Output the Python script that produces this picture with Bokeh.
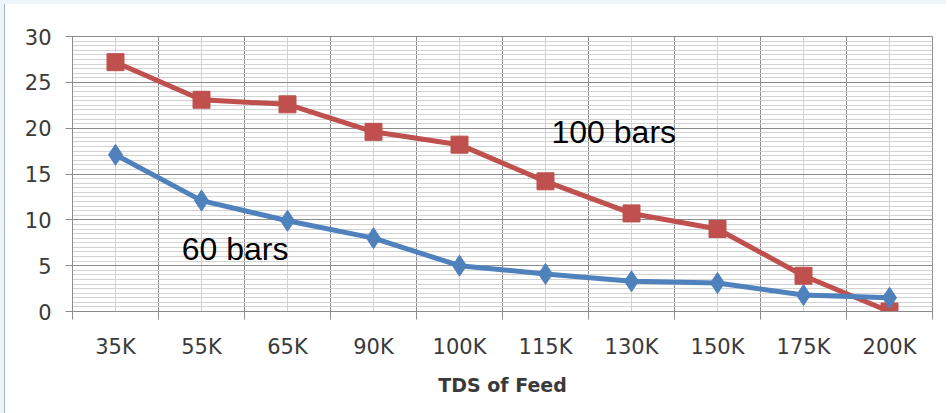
from bokeh.plotting import figure
from bokeh.layouts import column
from bokeh.models import Range1d, FixedTicker, SingleIntervalTicker, Label
from bokeh.embed import file_html
from bokeh.resources import INLINE

# Feed salinity (TDS) categories and the two pressure series
tds_labels = ["35K", "55K", "65K", "90K", "100K", "115K", "130K", "150K", "175K", "200K"]
bars_100 = [27.2, 23.1, 22.6, 19.6, 18.2, 14.2, 10.7, 9.0, 3.9, 0.0]
bars_60 = [17.1, 12.1, 9.9, 8.0, 5.0, 4.1, 3.3, 3.1, 1.8, 1.5]

series_names = ["100 bars", "60 bars"]

RED = "#C0504D"
BLUE = "#4F81BD"
MAJOR_GRID = "#8c8c8c"
MINOR_GRID = "#d2d2d2"
TEXT = "#3a3a3a"

n = len(tds_labels)
xs = [i + 0.5 for i in range(n)]

p = figure(width=942, height=409, output_backend="svg", toolbar_location=None,
           x_range=Range1d(0, n), y_range=Range1d(0, 30),
           min_border_left=67, min_border_right=15,
           min_border_top=32, min_border_bottom=102)
p.background_fill_color = "white"
p.border_fill_color = "white"
p.outline_line_color = MAJOR_GRID
p.styles = {"border-left": "1px solid #a9b4c0"}

# x axis: labels at category centres, tick marks and dark grid at boundaries
xticker = FixedTicker(ticks=xs, minor_ticks=list(range(n + 1)))
p.xaxis.ticker = xticker
p.xaxis.major_label_overrides = {x: lab for x, lab in zip(xs, tds_labels)}
p.xaxis.major_tick_line_color = None
p.xaxis.major_tick_out = 0
p.xaxis.major_tick_in = 0
p.xaxis.minor_tick_out = 8
p.xaxis.minor_tick_in = 0
p.xaxis.minor_tick_line_color = MAJOR_GRID
p.xaxis.axis_line_color = MAJOR_GRID
p.xaxis.major_label_standoff = 15
p.xaxis.major_label_text_font = "DejaVu Sans"
p.xaxis.major_label_text_font_size = "21px"
p.xaxis.major_label_text_color = TEXT
p.xaxis.axis_label = "TDS of Feed"
p.xaxis.axis_label_text_font = "DejaVu Sans"
p.xaxis.axis_label_text_font_size = "19px"
p.xaxis.axis_label_text_font_style = "bold"
p.xaxis.axis_label_text_color = TEXT
p.xaxis.axis_label_standoff = 12

p.xgrid.ticker = xticker
p.xgrid.grid_line_color = MINOR_GRID
p.xgrid.minor_grid_line_color = MAJOR_GRID

# y axis: majors every 5, light minor lines every 0.5
yticker = SingleIntervalTicker(interval=5, num_minor_ticks=10)
p.yaxis.ticker = yticker
p.yaxis.major_tick_out = 7
p.yaxis.major_tick_in = 0
p.yaxis.major_tick_line_color = MAJOR_GRID
p.yaxis.minor_tick_out = 0
p.yaxis.minor_tick_in = 0
p.yaxis.minor_tick_line_color = None
p.yaxis.axis_line_color = MAJOR_GRID
p.yaxis.major_label_standoff = 14
p.yaxis.major_label_text_font = "DejaVu Sans"
p.yaxis.major_label_text_font_size = "21px"
p.yaxis.major_label_text_color = TEXT

p.ygrid.ticker = yticker
p.ygrid.grid_line_color = MAJOR_GRID
p.ygrid.minor_grid_line_color = MINOR_GRID

# series
p.line(xs, bars_100, line_color=RED, line_width=5)
p.scatter(xs, bars_100, marker="square", size=17, fill_color=RED, line_color=RED)
p.line(xs, bars_60, line_color=BLUE, line_width=5)
p.scatter(xs, bars_60, marker="diamond", size=21, fill_color=BLUE, line_color=BLUE)

# series name labels
p.add_layout(Label(x=5.57, y=19.6, text=series_names[0], text_font="Liberation Sans",
                   text_font_size="32px", text_color="black", text_baseline="middle"))
p.add_layout(Label(x=1.27, y=6.8, text=series_names[1], text_font="Liberation Sans",
                   text_font_size="32px", text_color="black", text_baseline="middle"))

# pale window edge along the top and left only
page = column(p, styles={"border-top": "4px solid #eef4fb",
                         "border-left": "4px solid #eef4fb"})

open("out.html", "w").write(file_html(page, INLINE))
